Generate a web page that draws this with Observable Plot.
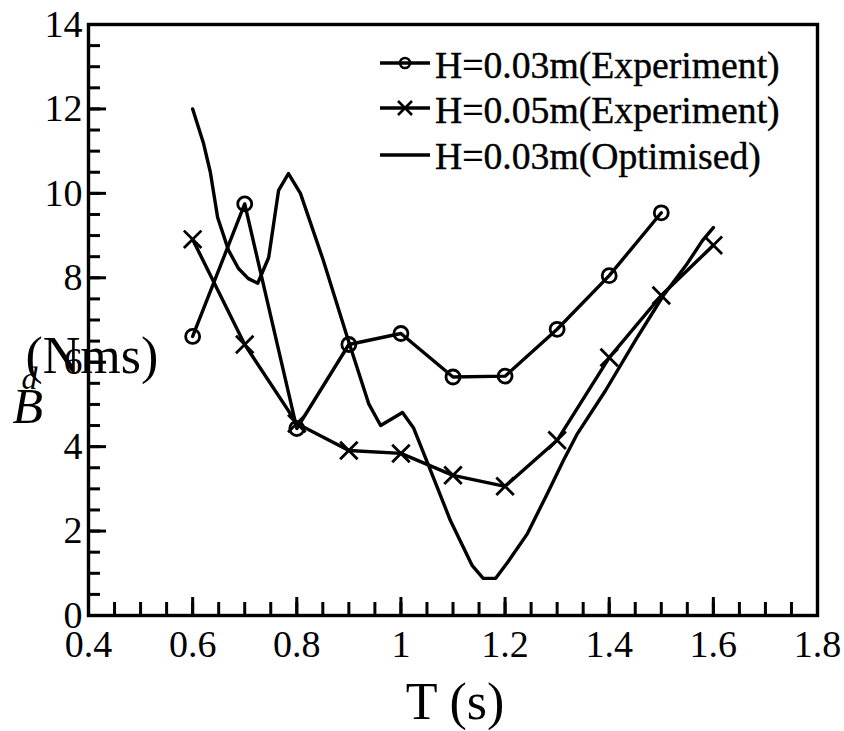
<!DOCTYPE html>
<html><head><meta charset="utf-8">
<script src="https://cdn.jsdelivr.net/npm/d3@7"></script>
<script src="https://cdn.jsdelivr.net/npm/@observablehq/plot@0.6"></script>
<style>
body{margin:0;background:#fff}
#wrap{position:relative;width:844px;height:731px}
#wrap svg text{font-family:"Liberation Serif",serif}
#legend{position:absolute;left:0;top:0;pointer-events:none}
</style>
</head><body><div id="wrap"></div>
<script>
// H=0.03m (Experiment)
const T_exp03 = [0.6,0.7,0.8,0.9,1.0,1.1,1.2,1.3,1.4,1.5];
const B_exp03 = [6.61,9.75,4.43,6.42,6.68,5.65,5.67,6.78,8.05,9.54];
// H=0.05m (Experiment)
const T_exp05 = [0.6,0.7,0.8,0.9,1.0,1.1,1.2,1.3,1.4,1.5,1.6];
const B_exp05 = [8.91,6.42,4.55,3.91,3.84,3.32,3.06,4.15,6.11,7.58,8.77];
// H=0.03m (Optimised)
const T_opt = [0.6,0.621,0.634,0.648,0.669,0.688,0.707,0.725,0.746,0.765,0.784,0.807,0.851,0.897,0.938,0.961,1.003,1.024,1.057,1.095,1.137,1.158,1.182,1.205,1.243,1.282,1.312,1.339,1.393,1.45,1.504,1.55,1.579,1.6];
const B_opt = [12.0,11.18,10.5,9.43,8.65,8.22,7.98,7.87,8.48,10.07,10.47,10.0,8.41,6.59,5.02,4.5,4.81,4.45,3.43,2.25,1.18,0.88,0.88,1.26,1.94,2.91,3.67,4.31,5.33,6.51,7.58,8.34,8.88,9.19];

const seriesNames = ["H=0.03m(Experiment)","H=0.05m(Experiment)","H=0.03m(Optimised)"];
const xTicks = [0.4,0.6,0.8,1.0,1.2,1.4,1.6,1.8];
const yTicks = [0,2,4,6,8,10,12,14];
const xMinor = d3.range(0.45, 1.8, 0.05);
const yMinor = d3.range(0.5, 14, 0.5);

const exp03 = T_exp03.map((t,i)=>({T:t,B:B_exp03[i]}));
const exp05 = T_exp05.map((t,i)=>({T:t,B:B_exp05[i]}));
const opt = T_opt.map((t,i)=>({T:t,B:B_opt[i]}));

const font = "Liberation Serif, serif";
const fmt = d3.format("~g");

const chart = Plot.plot({
  width: 844, height: 731,
  marginLeft: 88, marginRight: 27, marginTop: 24, marginBottom: 116,
  x: {domain: [0.4, 1.8]},
  y: {domain: [0, 14]},
  style: {fontFamily: font, background: "white", color: "black"},
  marks: [
    Plot.axisX(xMinor, {tickSize: -13, strokeWidth: 3, tickFormat: () => "", label: null}),
    Plot.axisX(xTicks, {tickSize: -18, strokeWidth: 3, tickFormat: () => "", label: null}),
    Plot.axisX(xTicks, {tickSize: 0, tickPadding: 15, fontSize: 38, fontFamily: font, tickFormat: fmt, label: null, fill: "black", stroke: "black", strokeWidth: 0.4}),
    Plot.axisY(yMinor, {tickSize: -12, strokeWidth: 3, tickFormat: () => "", label: null}),
    Plot.axisY(yTicks, {tickSize: -18, strokeWidth: 3, tickFormat: () => "", label: null}),
    Plot.axisY(yTicks, {tickSize: 0, tickPadding: 6, fontSize: 38, fontFamily: font, tickFormat: fmt, label: null, fill: "black", stroke: "black", strokeWidth: 0.4}),
    Plot.line(opt, {x: "T", y: "B", stroke: "black", strokeWidth: 3.4}),
    Plot.line(exp05, {x: "T", y: "B", stroke: "black", strokeWidth: 3.4}),
    Plot.dot(exp05, {x: "T", y: "B", symbol: "times", r: 8, stroke: "black", strokeWidth: 2.8}),
    Plot.line(exp03, {x: "T", y: "B", stroke: "black", strokeWidth: 3.4}),
    Plot.dot(exp03, {x: "T", y: "B", symbol: "circle", r: 7, stroke: "black", fill: "none", strokeWidth: 2.8}),
    Plot.frame({stroke: "black", strokeWidth: 3.4}),
    Plot.text(["T (s)"], {text: d => d, frameAnchor: "bottom", dx: 2, dy: 103, lineAnchor: "bottom", textAnchor: "middle", fontSize: 52, fontFamily: font, fill: "black"}),
    Plot.text(["(Nms)"], {text: d => d, frameAnchor: "top-left", dx: -63, dy: 348, lineAnchor: "bottom", textAnchor: "start", fontSize: 52, fontFamily: font, fill: "black"}),
    Plot.text(["d"], {text: d => d, frameAnchor: "top-left", dx: -67, dy: 364, lineAnchor: "bottom", textAnchor: "start", fontSize: 32, fontStyle: "italic", fontFamily: font, fill: "black"}),
    Plot.text(["B"], {text: d => d, frameAnchor: "top-left", dx: -76, dy: 398, lineAnchor: "bottom", textAnchor: "start", fontSize: 50, fontStyle: "italic", fontFamily: font, fill: "black"})
  ]
});
const wrap = document.getElementById("wrap");
wrap.appendChild(chart);

// Legend overlay (inside the plot area, top right)
const ns = "http://www.w3.org/2000/svg";
const leg = document.createElementNS(ns, "svg");
leg.setAttribute("id", "legend");
leg.setAttribute("width", 844); leg.setAttribute("height", 731);
const rows = [{y: 63, base: 78, sym: "circle"}, {y: 108, base: 123, sym: "times"}, {y: 155, base: 169, sym: null}];
rows.forEach((r, i) => {
  const ln = document.createElementNS(ns, "line");
  ln.setAttribute("x1", 380); ln.setAttribute("x2", 430);
  ln.setAttribute("y1", r.y); ln.setAttribute("y2", r.y);
  ln.setAttribute("stroke", "black"); ln.setAttribute("stroke-width", 3.4);
  leg.appendChild(ln);
  if (r.sym === "circle") {
    const c = document.createElementNS(ns, "circle");
    c.setAttribute("cx", 405); c.setAttribute("cy", r.y); c.setAttribute("r", 5);
    c.setAttribute("fill", "none"); c.setAttribute("stroke", "black"); c.setAttribute("stroke-width", 2.6);
    leg.appendChild(c);
  } else if (r.sym === "times") {
    const p = document.createElementNS(ns, "path");
    p.setAttribute("d", `M398,${r.y-7}L412,${r.y+7}M412,${r.y-7}L398,${r.y+7}`);
    p.setAttribute("stroke", "black"); p.setAttribute("stroke-width", 2.6);
    leg.appendChild(p);
  }
  const t = document.createElementNS(ns, "text");
  t.setAttribute("x", 435); t.setAttribute("y", r.base);
  t.setAttribute("style", "font-family:'Liberation Serif',serif;font-size:37.7px;stroke:black;stroke-width:0.4px");
  t.textContent = seriesNames[i];
  leg.appendChild(t);
});
wrap.appendChild(leg);
</script>
</body></html>
